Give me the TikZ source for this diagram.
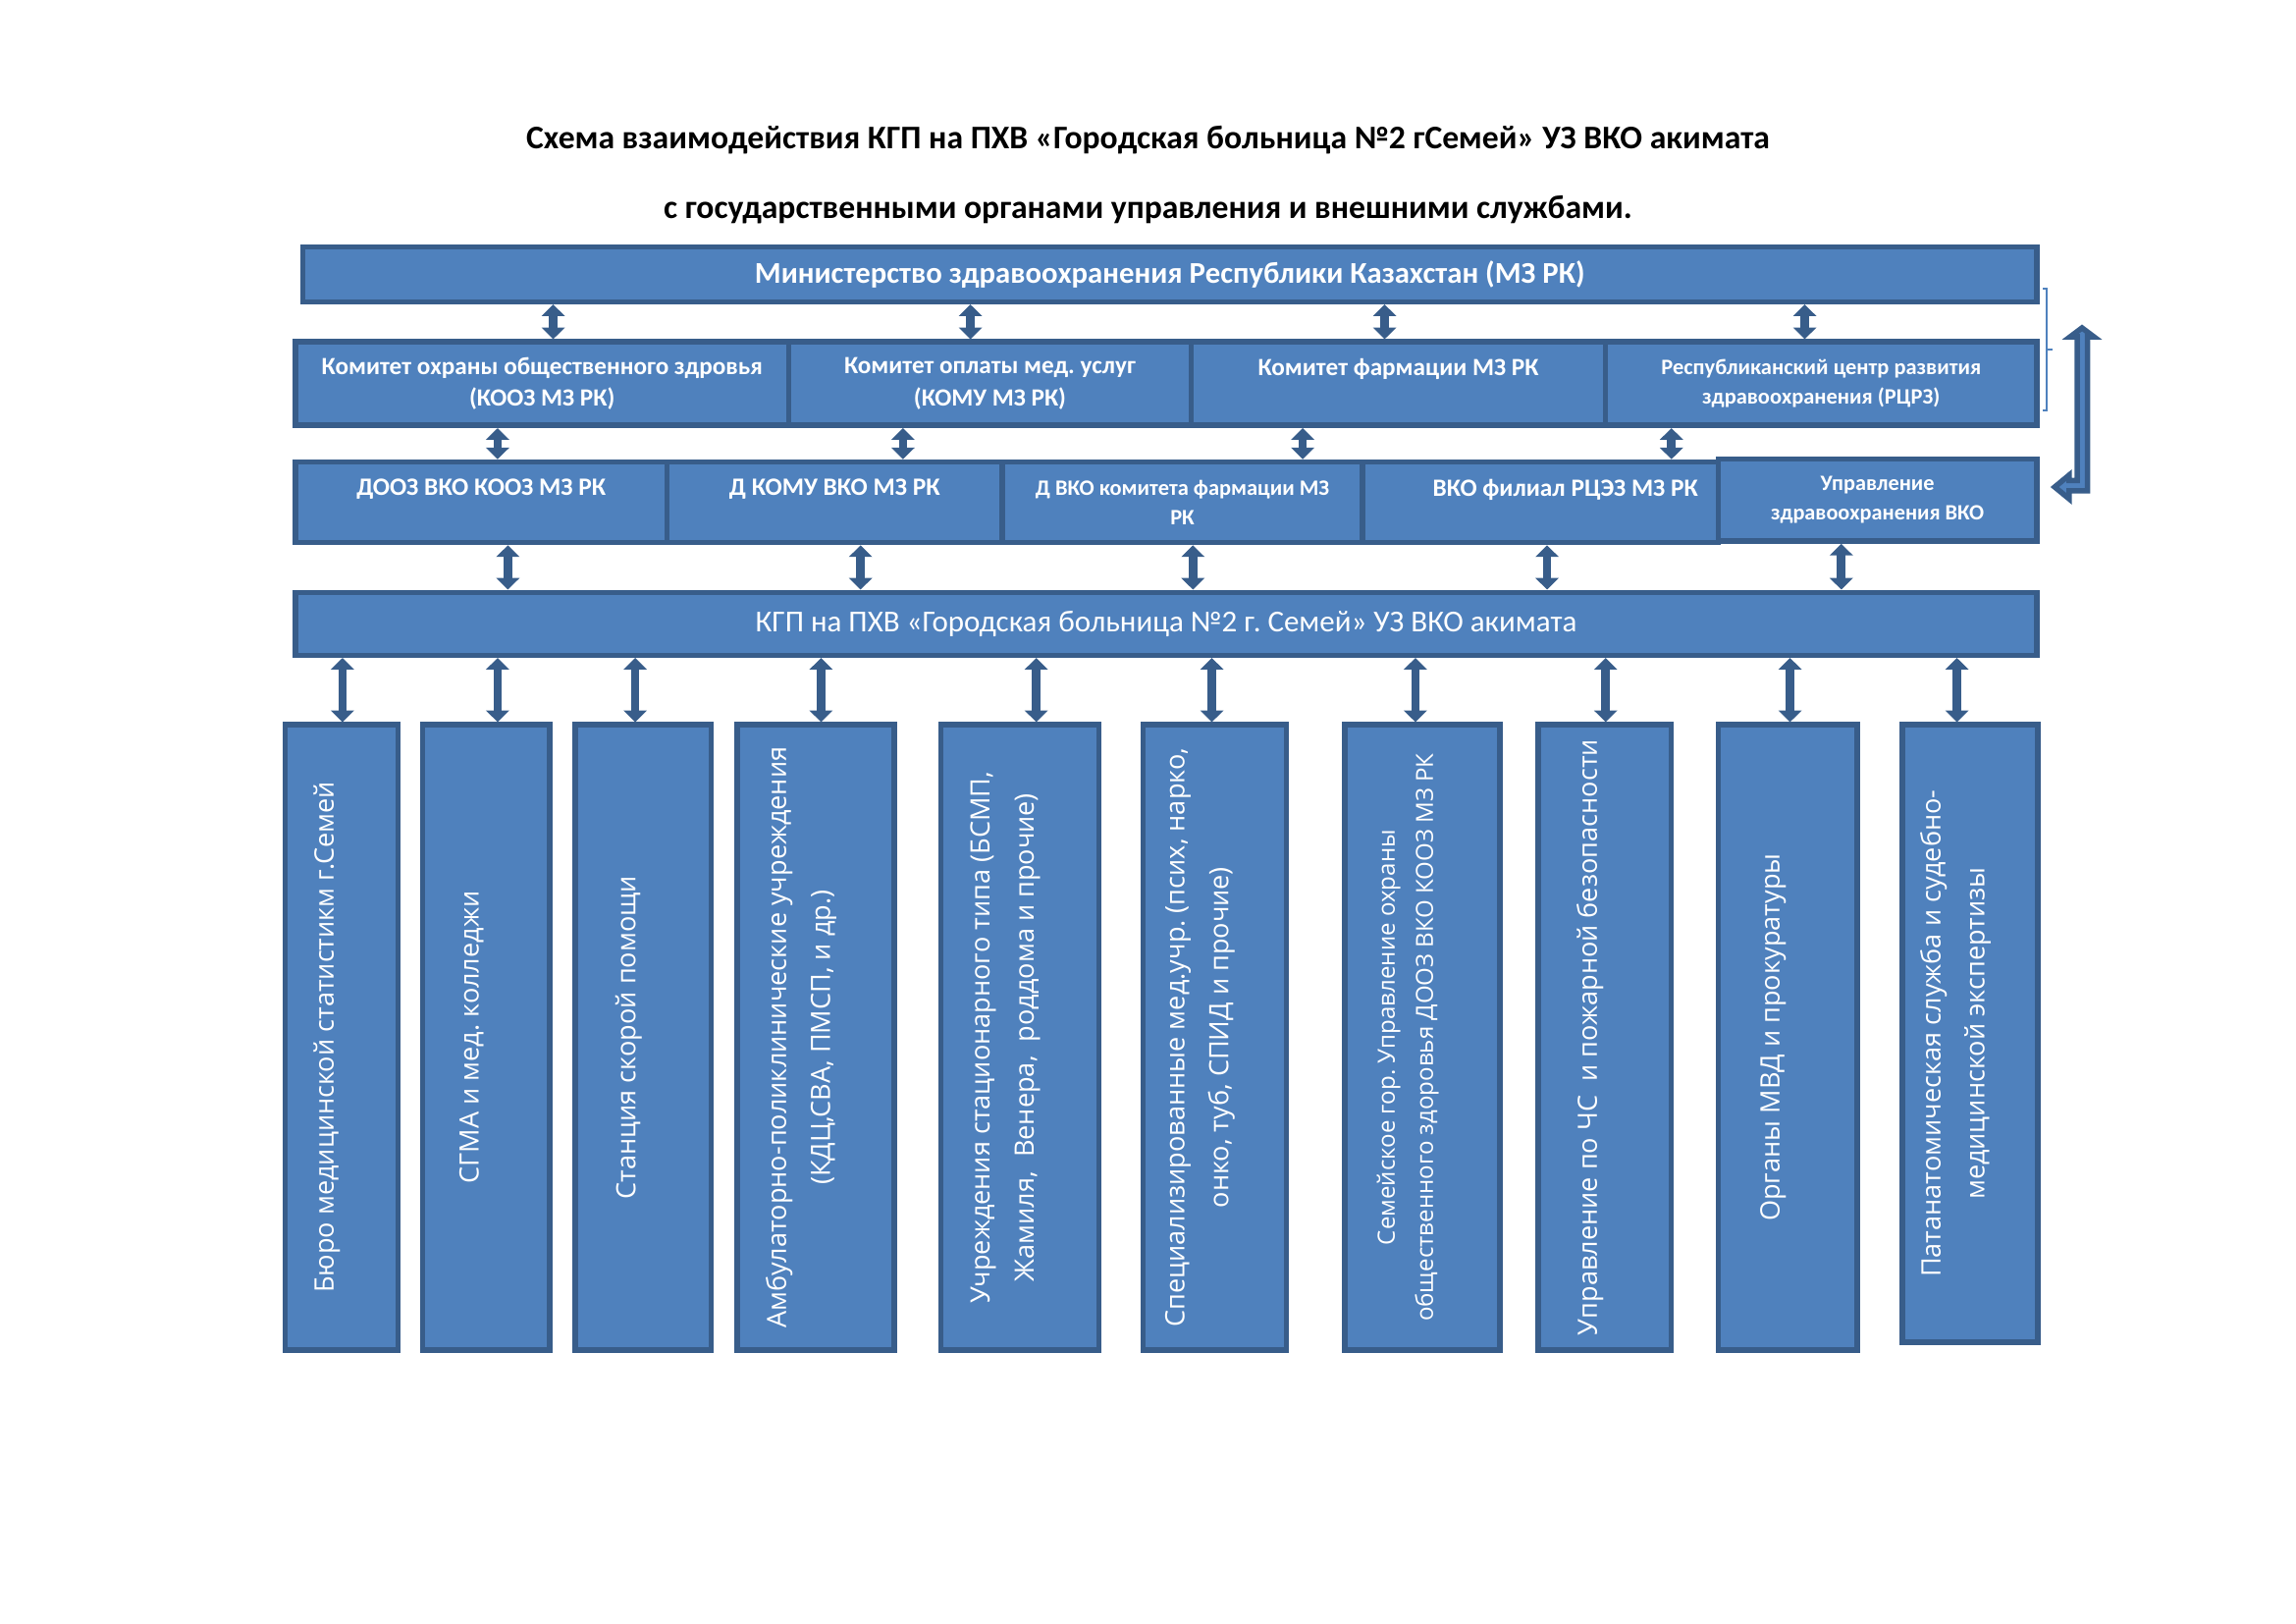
\documentclass[tikz,border=0pt]{standalone}
\usepackage{fontspec}
\setmainfont{Carlito}
\newfontfamily\vertfont{Open Sans}
\usetikzlibrary{arrows.meta}
\definecolor{boxfill}{HTML}{4F81BD}
\definecolor{boxline}{HTML}{385D8A}
\frenchspacing

\begin{document}
\begin{tikzpicture}[y=-1cm,
    box/.style={draw=boxline, fill=boxfill, line width=2pt, text=white, anchor=north west, inner sep=0pt, align=center},
    vbox/.style={box, minimum height=8.087cm},
    vtext/.style={rotate=90, text=white, align=center, inner sep=0pt, font=\vertfont\fontsize{9.8}{16.2}\selectfont},
    biarrow/.style={draw=boxline, line width=3.1pt, {Triangle[width=8.4pt,length=4.3pt]}-{Triangle[width=8.4pt,length=4.3pt]}}]

    \useasboundingbox (0,0) rectangle (29.7,21);

    \node[font=\bfseries\fontsize{12.15}{14}\selectfont] (title1) at (14.85,1.810) {Схема взаимодействия КГП на ПХВ «Городская больница №2 гСемей» УЗ ВКО акимата};
    \node[font=\bfseries\fontsize{12.15}{14}\selectfont] (title2) at (14.85,2.718) {с государственными органами управления и внешними службами.};

    \node[box, minimum width=22.43cm, minimum height=0.708cm, font=\bfseries\fontsize{11.1}{13}\selectfont] (mz) at (3.882,3.159) {Министерство здравоохранения Республики Казахстан (МЗ РК)};

    \node[box, minimum width=6.380cm, minimum height=1.080cm, font=\bfseries\fontsize{9.1}{11.9}\selectfont] (kooz) at (3.787,4.386) {Комитет охраны общественного здровья\\(КООЗ МЗ РК)};
    \node[box, minimum width=5.207cm, minimum height=1.080cm, font=\bfseries\fontsize{9.1}{11.9}\selectfont] (komu) at (10.167,4.386) {Комитет оплаты мед. услуг\\(КОМУ МЗ РК)};
    \node[box, minimum width=5.358cm, minimum height=1.080cm, font=\bfseries\fontsize{9.1}{11.9}\selectfont] (farm) at (15.374,4.386) {Комитет фармации МЗ РК\\~};
    \node[box, minimum width=5.580cm, minimum height=1.080cm, font=\bfseries\fontsize{8.1}{10.8}\selectfont] (rcrz) at (20.732,4.386) {Республиканский центр развития\\здравоохранения (РЦРЗ)};

    \node[box, minimum width=4.808cm, minimum height=1.042cm, font=\bfseries\fontsize{9.2}{10.8}\selectfont] (dooz) at (3.787,5.939) {ДООЗ ВКО КООЗ МЗ РК\\~};
    \node[box, minimum width=4.336cm, minimum height=1.042cm, font=\bfseries\fontsize{9.2}{10.8}\selectfont] (dkomu) at (8.595,5.939) {Д КОМУ ВКО МЗ РК\\~};
    \node[box, minimum width=4.658cm, minimum height=1.042cm, font=\bfseries\fontsize{8.1}{10.8}\selectfont] (dfarm) at (12.931,5.939) {Д ВКО комитета фармации МЗ\\РК};
    \node[box, minimum width=4.601cm, minimum height=1.042cm, font=\bfseries\fontsize{9.15}{10.8}\selectfont] (rcez) at (17.589,5.939) {\hspace*{0.65cm}ВКО филиал РЦЭЗ МЗ РК\\~};
    \node[box, minimum width=4.122cm, minimum height=1.061cm, font=\bfseries\fontsize{8.05}{10.8}\selectfont] (uzvko) at (22.190,5.901) {Управление\\здравоохранения ВКО};

    \node[box, minimum width=22.525cm, minimum height=0.813cm, font=\fontsize{11.2}{13}\selectfont] (kgp) at (3.787,7.625) {КГП на ПХВ «Городская больница №2 г. Семей» УЗ ВКО акимата};

    \node[vbox, minimum width=1.458cm] (buro) at (3.654,9.338) {};
    \node[vbox, minimum width=1.642cm] (sgma) at (5.434,9.338) {};
    \node[vbox, minimum width=1.761cm] (ssp) at (7.405,9.338) {};
    \node[vbox, minimum width=2.026cm] (app) at (9.504,9.338) {};
    \node[vbox, minimum width=2.045cm] (stac) at (12.136,9.338) {};
    \node[vbox, minimum width=1.856cm] (spec) at (14.749,9.338) {};
    \node[vbox, minimum width=2.007cm] (semey) at (17.362,9.338) {};
    \node[vbox, minimum width=1.722cm] (chs) at (19.861,9.338) {};
    \node[vbox, minimum width=1.799cm] (mvd) at (22.190,9.338) {};
    \node[vbox, minimum width=1.750cm, minimum height=7.987cm] (pat) at (24.575,9.338) {};

    \node[vtext] (buro-t) at ([xshift=-0.19cm]buro.center) {Бюро медицинской статистикм г.Семей};
    \node[vtext] (sgma-t) at ([xshift=-0.19cm]sgma.center) {СГМА и мед. колледжи};
    \node[vtext] (ssp-t) at ([xshift=-0.19cm]ssp.center) {Станция скорой помощи};
    \node[vtext] (app-t) at ([xshift=-0.19cm]app.center) {Амбулаторно-поликлинические учреждения\\(КДЦ,СВА, ПМСП, и др.)};
    \node[vtext] (stac-t) at ([xshift=-0.19cm]stac.center) {Учреждения стационарного типа (БСМП,\\Жамиля,\ \ Венера,\ \ роддома и прочие)};
    \node[vtext] (spec-t) at ([xshift=-0.19cm]spec.center) {Специализированные мед.учр. (псих, нарко,\\онко, туб, СПИД и прочие)};
    \node[vtext, font=\vertfont\fontsize{8.7}{14.1}\selectfont] (semey-t) at ([xshift=-0.19cm]semey.center) {Семейское гор. Управление охраны\\общественного здоровья ДООЗ ВКО КООЗ МЗ РК};
    \node[vtext] (chs-t) at ([xshift=-0.19cm]chs.center) {Управление по ЧС\ \ и пожарной безопасности};
    \node[vtext] (mvd-t) at ([xshift=-0.19cm]mvd.center) {Органы МВД и прокуратуры};
    \node[vtext] (pat-t) at ([xshift=-0.19cm]pat.center) {Патанатомическая служба и судебно-\\медицинской экспертизы};

    \draw[biarrow] (mz.south -| 7.156,0) -- (kooz.north -| 7.156,0);
    \draw[biarrow] (mz.south -| 12.553,0) -- (komu.north -| 12.553,0);
    \draw[biarrow] (mz.south -| 17.911,0) -- (farm.north -| 17.911,0);
    \draw[biarrow] (mz.south -| 23.345,0) -- (rcrz.north -| 23.345,0);

    \draw[biarrow] (kooz.south -| 6.437,0) -- (dooz.north -| 6.437,0);
    \draw[biarrow] (komu.south -| 11.681,0) -- (dkomu.north -| 11.681,0);
    \draw[biarrow] (farm.south -| 16.851,0) -- (dfarm.north -| 16.851,0);
    \draw[biarrow] (rcrz.south -| 21.621,0) -- (rcez.north -| 21.621,0);

    \draw[biarrow] (dooz.south -| 6.570,0) -- (kgp.north -| 6.570,0);
    \draw[biarrow] (dkomu.south -| 11.132,0) -- (kgp.north -| 11.132,0);
    \draw[biarrow] (dfarm.south -| 15.431,0) -- (kgp.north -| 15.431,0);
    \draw[biarrow] (rcez.south -| 20.012,0) -- (kgp.north -| 20.012,0);
    \draw[biarrow] (uzvko.south -| 23.818,0) -- (kgp.north -| 23.818,0);

    \draw[biarrow] (kgp.south -| 4.430,0) -- (buro.north -| 4.430,0);
    \draw[biarrow] (kgp.south -| 6.437,0) -- (sgma.north -| 6.437,0);
    \draw[biarrow] (kgp.south -| 8.217,0) -- (ssp.north -| 8.217,0);
    \draw[biarrow] (kgp.south -| 10.621,0) -- (app.north -| 10.621,0);
    \draw[biarrow] (kgp.south -| 13.405,0) -- (stac.north -| 13.405,0);
    \draw[biarrow] (kgp.south -| 15.676,0) -- (spec.north -| 15.676,0);
    \draw[biarrow] (kgp.south -| 18.309,0) -- (semey.north -| 18.309,0);
    \draw[biarrow] (kgp.south -| 20.770,0) -- (chs.north -| 20.770,0);
    \draw[biarrow] (kgp.south -| 23.155,0) -- (mvd.north -| 23.155,0);
    \draw[biarrow] (kgp.south -| 25.314,0) -- (pat.north -| 25.314,0);

    \draw[boxfill, line width=0.75pt] (26.424,3.733) -- (26.475,3.733) -- (26.475,5.308) -- (26.424,5.308) (26.475,4.520) -- (26.551,4.520);

    \draw[draw=boxline, fill=boxfill, line width=2pt] (26.932,4.240) -- (27.085,4.355) -- (27.002,4.355) -- (27.002,6.348) -- (26.764,6.348) -- (26.764,6.450) -- (26.579,6.298) -- (26.764,6.145) -- (26.764,6.215) -- (26.869,6.215) -- (26.869,4.355) -- (26.779,4.355) -- cycle;
\end{tikzpicture}
\end{document}
